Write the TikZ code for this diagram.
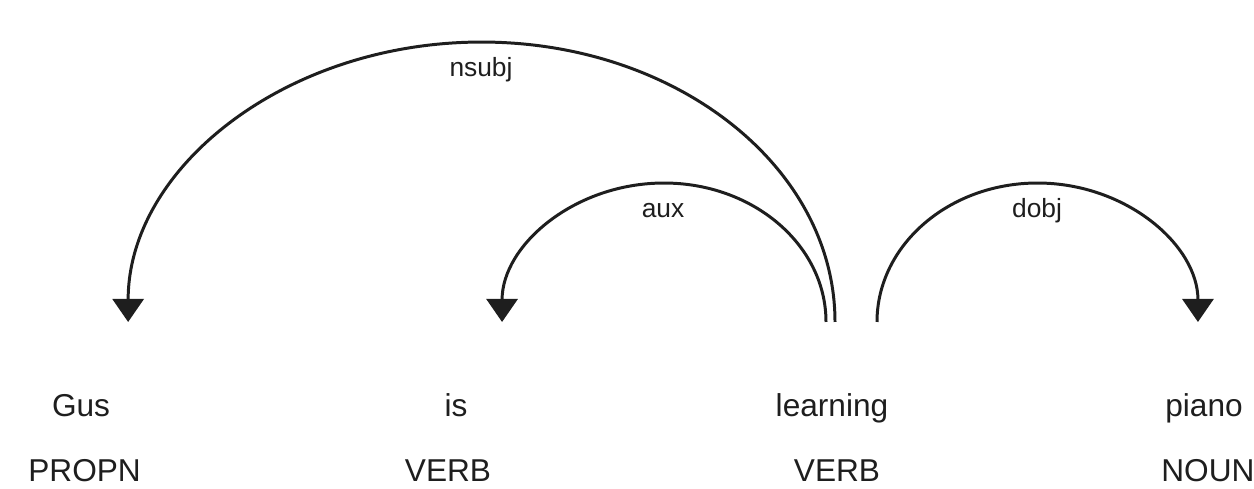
\documentclass[tikz,border=0pt]{standalone}
\usepackage{fontspec}
\setmainfont{Liberation Sans}
\usetikzlibrary{arrows.meta}
\definecolor{ink}{HTML}{1E1E1E}
\begin{document}
\begin{tikzpicture}[x=0.02cm,y=0.02cm,
  word/.style={anchor=base,inner sep=0pt,text=ink,font=\fontsize{18}{21}\selectfont},
  deplabel/.style={anchor=base,inner sep=0pt,text=ink,font=\fontsize{15}{18}\selectfont},
  deparc/.style={draw=ink,line width=1.7pt,-{Triangle[width=0.62cm,length=0.46cm]}}]
\useasboundingbox (0,0) rectangle (1254,489);
% words
\node[word] (w1) at (81,72) {Gus};
\node[word,anchor=base west] (t1) at (28,7) {PROPN};
\node[word] (w2) at (456,72) {is};
\node[word] (t2) at (448,7) {VERB};
\node[word] (w3) at (832,72) {learning};
\node[word] (t3) at (837,7) {VERB};
\node[word] (w4) at (1204,72) {piano};
\node[word,anchor=base west] (t4) at (1161,7) {NOUN};
% arc end points
\coordinate (s-nsubj) at (835,167);
\coordinate (s-aux) at (826,167);
\coordinate (s-dobj) at (877,167);
% arcs
\draw[deparc] (s-nsubj) arc[start angle=0,end angle=180,x radius=7.07cm,y radius=5.6cm] coordinate (e-nsubj);
\draw[deparc] (s-aux) arc[start angle=0,end angle=180,x radius=3.24cm,y radius=2.78cm] coordinate (e-aux);
\draw[deparc] (s-dobj) arc[start angle=180,end angle=0,x radius=3.21cm,y radius=2.78cm] coordinate (e-dobj);
% labels
\node[deplabel] (l-nsubj) at (481,412) {nsubj};
\node[deplabel] (l-aux) at (663,271) {aux};
\node[deplabel] (l-dobj) at (1037,271) {dobj};
\end{tikzpicture}
\end{document}
